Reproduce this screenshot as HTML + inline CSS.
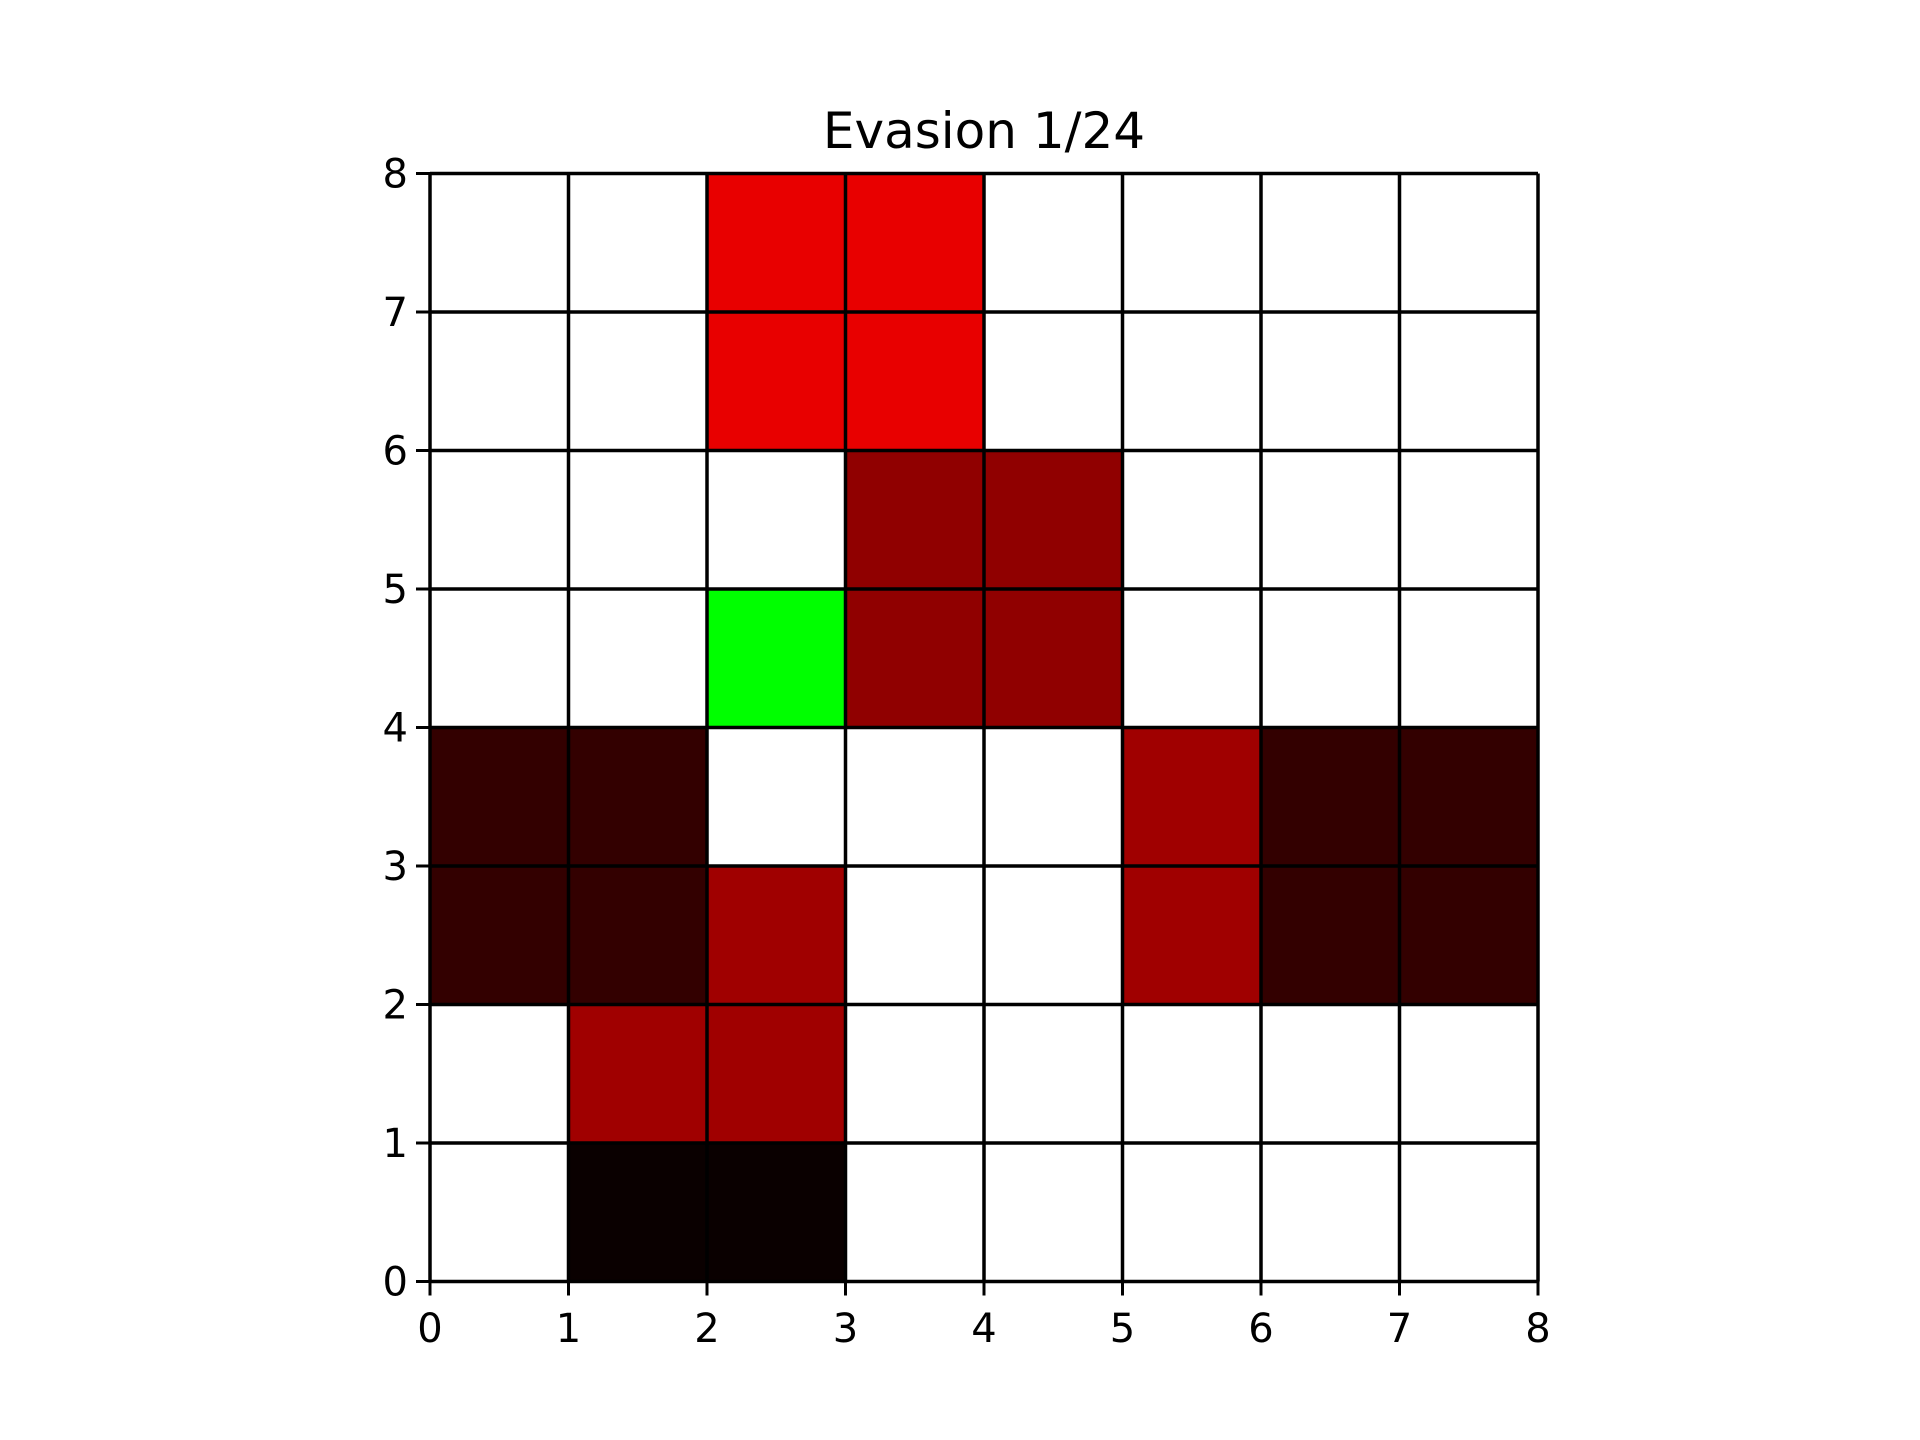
<!DOCTYPE html>
<html><head><meta charset="utf-8"><style>
html,body{margin:0;padding:0;background:#fff;}
svg{display:block;font-family:"DejaVu Sans","Liberation Sans",sans-serif;}
</style></head><body>
<svg id="chart" width="1920" height="1440" viewBox="0 0 1920 1440">
<text x="984" y="148" font-size="50" text-anchor="middle">Evasion 1/24</text>
<g id="cells"></g><g id="grid"></g><g id="ticks"></g>
</svg>
<script>
// rows listed from top (y=7) to bottom (y=0); values are colour codes
const rowY = [7,6,5,4,3,2,1,0];
const colX = [0,1,2,3,4,5,6,7];
const cellValues = [
 ["W","W","R","R","W","W","W","W"],
 ["W","W","R","R","W","W","W","W"],
 ["W","W","W","D","D","W","W","W"],
 ["W","W","G","D","D","W","W","W"],
 ["K","K","W","W","W","M","K","K"],
 ["K","K","M","W","W","M","K","K"],
 ["W","M","M","W","W","W","W","W"],
 ["W","B","B","W","W","W","W","W"]
];
const tickLabels = ["0","1","2","3","4","5","6","7","8"];
const palette = {W:"#ffffff",R:"#e80000",D:"#900000",G:"#00ff00",K:"#330000",M:"#a00000",B:"#0a0000"};
const L=430, T=173.5, S=1108, N=8;
const sx = v => L + v*S/N;
const sy = v => T + S - v*S/N;
const ns="http://www.w3.org/2000/svg";
const cells=document.getElementById('cells'), grid=document.getElementById('grid'), ticks=document.getElementById('ticks');
rowY.forEach((y,ri)=>colX.forEach((x,ci)=>{
  const r=document.createElementNS(ns,'rect');
  r.setAttribute('x',sx(x));r.setAttribute('y',sy(y+1));
  r.setAttribute('width',sx(x+1)-sx(x));r.setAttribute('height',sy(y)-sy(y+1));
  r.setAttribute('fill',palette[cellValues[ri][ci]]);
  
  
  cells.appendChild(r);
}));
function line(g,x1,y1,x2,y2,w,name){
  const l=document.createElementNS(ns,'line');
  l.setAttribute('x1',x1);l.setAttribute('y1',y1);l.setAttribute('x2',x2);l.setAttribute('y2',y2);
  l.setAttribute('stroke','#000');l.setAttribute('stroke-width',w);
  
  
  g.appendChild(l);
}
tickLabels.forEach((lab,i)=>{
  line(grid,sx(i),sy(0),sx(i),sy(8),3.5,'grid-line-x-'+i);
  line(grid,sx(0),sy(i),sx(8),sy(i),3.5,'grid-line-y-'+i);
  line(ticks,sx(i),sy(0),sx(i),sy(0)+14,3,'x-tick-'+i);
  line(ticks,sx(0)-14,sy(i),sx(0),sy(i),3,'y-tick-'+i);
  const tx=document.createElementNS(ns,'text');
  tx.setAttribute('x',sx(i));tx.setAttribute('y',1342);tx.setAttribute('font-size','40');tx.setAttribute('text-anchor','middle');
  tx.textContent=lab;
  
  
  ticks.appendChild(tx);
  const ty=document.createElementNS(ns,'text');
  ty.setAttribute('x',sx(0)-22);ty.setAttribute('y',sy(i)+14);ty.setAttribute('font-size','40');ty.setAttribute('text-anchor','end');
  ty.textContent=lab;
  
  
  ticks.appendChild(ty);
});
</script>
</body></html>
